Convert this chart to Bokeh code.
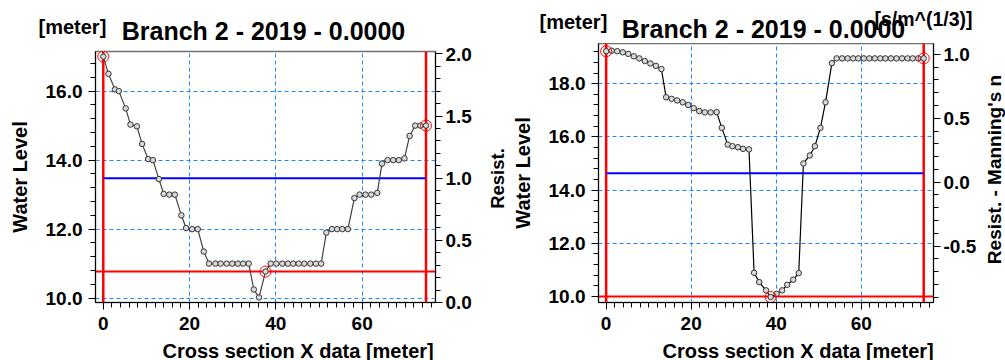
import math
from bokeh.plotting import figure
from bokeh.models import (Range1d, LinearAxis, SingleIntervalTicker, NumeralTickFormatter,
                          Span)
from bokeh.layouts import row, column
from bokeh.core.properties import value
from bokeh.embed import file_html
from bokeh.resources import INLINE

# ---------------- data ----------------
title_text = "Branch 2 - 2019 - 0.0000"
x_label_text = "Cross section X data [meter]"
y_label_text = "Water Level"
y_unit_text = "[meter]"
r_unit_text = "[s/m^(1/3)]"
r_label_left = "Resist."
r_label_right = "Resist. - Manning's n"

# left panel: cross section profile
xL = [0.0, 1.2, 2.7, 3.6, 5.2, 6.3, 7.8, 9.0, 10.4, 11.5, 12.9, 14.0, 15.3, 16.6, 18.1,
      19.2, 20.6, 21.9, 23.3, 24.5, 26.0, 27.2, 28.6, 29.9, 31.2, 32.4, 33.7, 34.9, 36.1,
      37.6, 38.8, 40.1, 41.5, 42.8, 44.0, 45.3, 46.6, 48.0, 49.3, 50.5, 51.7, 53.0, 54.2,
      55.4, 56.7, 58.2, 59.4, 60.8, 62.1, 63.5, 64.6, 65.9, 67.2, 68.5, 69.8, 71.0, 72.3,
      73.5, 74.8]
zL = [17.0, 16.5, 16.05, 16.0, 15.5, 15.03, 14.98, 14.47, 14.03, 14.0, 13.45, 13.02, 13.0,
      13.0, 12.4, 12.03, 12.0, 12.0, 11.35, 11.0, 11.0, 11.0, 11.0, 11.0, 11.0, 11.0, 11.0,
      10.25, 10.02, 10.77, 11.0, 11.0, 11.0, 11.0, 11.0, 11.0, 11.0, 11.0, 11.0, 11.0, 11.9,
      12.0, 12.0, 12.0, 12.0, 12.9, 13.0, 13.0, 13.0, 13.05, 13.9, 14.0, 14.0, 14.0, 14.05,
      14.7, 15.0, 15.0, 15.0]
markL_x = [0.0, 37.6, 74.8]
markL_z = [17.0, 10.77, 15.0]
banksL = [0.0, 74.8]
levelL = 10.77
resistL = 1.0

# right panel: cross section profile
xR = [0.0, 1.3, 2.6, 3.9, 5.2, 6.5, 7.8, 9.1, 10.4, 11.7, 13.0, 14.1, 15.4, 16.7, 18.0,
      19.3, 20.6, 21.9, 23.2, 24.6, 26.0, 27.2, 28.6, 29.7, 31.0, 32.2, 33.6, 34.8, 36.0,
      37.6, 38.7, 40.1, 41.4, 42.6, 44.0, 45.3, 46.4, 47.9, 49.1, 50.4, 51.6, 53.1, 54.2,
      55.5, 56.8, 58.1, 59.3, 60.6, 61.9, 63.2, 64.5, 65.7, 67.0, 68.3, 69.6, 70.9, 72.1,
      73.4, 74.7]
zR = [19.22, 19.24, 19.22, 19.18, 19.12, 19.03, 18.95, 18.85, 18.76, 18.67, 18.55, 17.49,
      17.43, 17.37, 17.3, 17.2, 17.08, 16.97, 16.92, 16.92, 16.93, 16.34, 15.71, 15.65,
      15.61, 15.55, 15.53, 10.89, 10.54, 10.23, 9.98, 10.1, 10.23, 10.44, 10.63, 10.88,
      15.0, 15.3, 15.65, 16.34, 17.3, 18.77, 18.95, 18.95, 18.95, 18.95, 18.95, 18.95,
      18.95, 18.95, 18.95, 18.95, 18.95, 18.95, 18.95, 18.95, 18.95, 18.95, 18.95]
markR_x = [0.0, 38.7, 74.7]
markR_z = [19.22, 9.98, 18.95]
banksR = [0.0, 74.7]
levelR = 10.0
resistR = 0.07

FONT = "Liberation Sans"
GRID = "#1e88ff"
SHIFT = 0.3   # text glyphs are drawn ~0.3 em below the requested baseline


def no_align(p):
    if "frame_align" in p.properties():
        p.frame_align = False


def text_canvas(w, h):
    c = figure(width=w, height=h, x_range=Range1d(0, w), y_range=Range1d(0, h),
               output_backend="svg", toolbar_location=None, title=None,
               x_axis_type=None, y_axis_type=None,
               min_border_left=0, min_border_right=0, min_border_top=0,
               min_border_bottom=0)
    c.outline_line_color = None
    c.background_fill_color = "white"
    c.border_fill_color = "white"
    no_align(c)
    return c


def put_text(c, x, y, text, size, align="left", angle=0.0):
    px = float(size.replace("px", ""))
    d = SHIFT * px
    x2 = x - d * math.sin(angle)
    y2 = y + d * math.cos(angle)
    c.text(x=[x2], y=[y2], text=[text], text_font=value(FONT), text_font_style="bold",
           text_font_size=value(size), text_align=align, text_baseline="alphabetic",
           text_color="black", angle=angle)


def make_panel(width, height, mb, xr, yr, rr, xs, zs, mx, mz, banks, level, resist,
               lcolor):
    p = figure(width=width, height=height, x_range=Range1d(*xr), y_range=Range1d(*yr),
               output_backend="svg", toolbar_location=None, title=None,
               min_border_left=mb[0], min_border_right=mb[1],
               min_border_top=mb[2], min_border_bottom=mb[3])
    no_align(p)
    p.background_fill_color = "white"
    p.border_fill_color = "white"
    p.outline_line_color = "#707070"
    p.outline_line_width = 1.5
    p.extra_y_ranges = {"r": Range1d(*rr)}

    xax = p.xaxis[0]
    yax = p.yaxis[0]
    xax.ticker = SingleIntervalTicker(interval=20, num_minor_ticks=10)
    yax.ticker = SingleIntervalTicker(interval=2, num_minor_ticks=5)
    yax.formatter = NumeralTickFormatter(format="0.0")
    yax.axis_label = y_label_text
    yax.axis_label_standoff = 12
    yax.major_label_standoff = 6
    xax.major_label_standoff = 7

    rax = LinearAxis(y_range_name="r",
                     ticker=SingleIntervalTicker(interval=0.5, num_minor_ticks=5),
                     formatter=NumeralTickFormatter(format="0.0"))
    rax.major_label_standoff = 3
    p.add_layout(rax, "right")

    for ax in [xax, yax, rax]:
        ax.major_label_text_font = FONT
        ax.major_label_text_font_style = "bold"
        ax.major_label_text_font_size = "19px"
        ax.major_label_text_color = "black"
        ax.axis_label_text_font = FONT
        ax.axis_label_text_font_style = "bold"
        ax.axis_label_text_font_size = "20px"
        ax.axis_label_text_color = "black"
        ax.axis_line_color = "black"
        ax.major_tick_line_color = "black"
        ax.minor_tick_line_color = "black"
        ax.major_tick_out = 7
        ax.major_tick_in = 0
        ax.minor_tick_out = 5
        ax.minor_tick_in = 0

    for g in [p.xgrid[0], p.ygrid[0]]:
        g.grid_line_color = GRID
        g.grid_line_dash = "4 3"
        g.grid_line_width = 1

    for b in banks:
        p.add_layout(Span(location=b, dimension="height", line_color="red",
                          line_width=2.5, level="underlay"))
    p.add_layout(Span(location=level, dimension="width", line_color="red",
                      line_width=2, level="underlay"))

    p.line([xs[0], xs[-1]], [resist, resist], y_range_name="r",
           line_color="blue", line_width=2.2)
    p.line(xs, zs, line_color=lcolor, line_width=1.2)
    p.scatter(xs, zs, marker="circle", size=5.5, fill_color="#d8d8d8",
              line_color="#333333", line_width=1)
    p.scatter(mx, mz, marker="circle", size=11, fill_alpha=0, line_color="red",
              line_width=1)
    return p


# ---- left column (page x 0..478) ----
headL = text_canvas(478, 43)
put_text(headL, 38, 11, y_unit_text, "20px")
put_text(headL, 263, 5.0, title_text, "25px", align="center")
pL = make_panel(478, 297, (95, 43, 8, 38), (-1.8, 77.0), (9.873, 17.148), (0.0, 2.02),
                xL, zL, markL_x, markL_z, banksL, levelL, resistL, "#404040")
footL = text_canvas(478, 20)
put_text(footL, 162, 4, x_label_text, "20px")

# strip with the right-axis title of the left panel (page x 478..508)
stripL = text_canvas(30, 360)
put_text(stripL, 25, 182, r_label_left, "18.5px", align="center", angle=math.pi / 2)

# ---- right column (page x 508..980) ----
headR = text_canvas(472, 43)
put_text(headR, 31, 15.4, y_unit_text, "20px")
put_text(headR, 255, 7.5, title_text, "25px", align="center")
put_text(headR, 366, 18.8, r_unit_text, "19.5px")
pR = make_panel(472, 297, (87, 47, 0, 38), (-1.8, 77.0), (9.774, 19.51), (-0.941, 1.085),
                xR, zR, markR_x, markR_z, banksR, levelR, resistR, "black")
footR = text_canvas(472, 20)
put_text(footR, 154, 4, x_label_text, "20px")

# strip with the right-axis title of the right panel (page x 980..1005)
stripR = text_canvas(25, 360)
put_text(stripR, 19.3, 191, r_label_right, "19px", align="center", angle=math.pi / 2)

layout = row(column(headL, pL, footL), stripL, column(headR, pR, footR), stripR)
open("out.html", "w").write(file_html(layout, INLINE))
